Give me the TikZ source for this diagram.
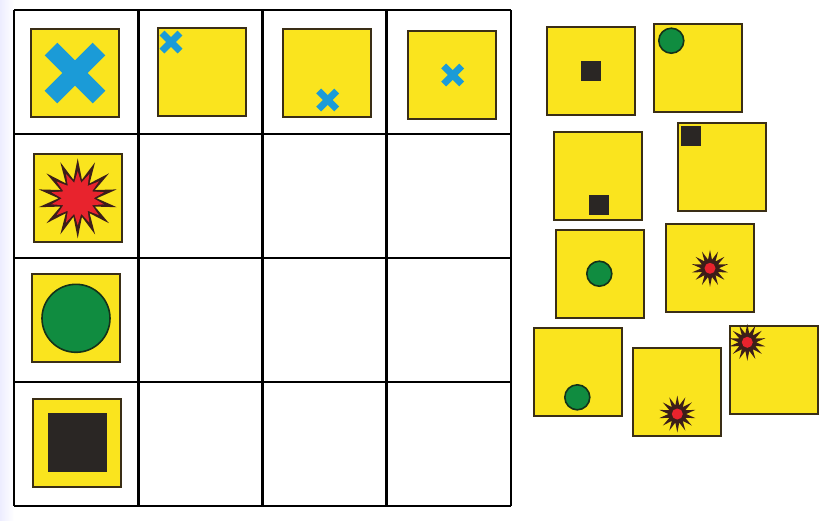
\documentclass[tikz,border=0pt]{standalone}
\usepackage{tikz}
\usetikzlibrary{shapes.geometric}
\definecolor{tileyel}{RGB}{250,228,30}
\definecolor{tileedge}{RGB}{58,46,22}
\definecolor{xblue}{RGB}{27,155,215}
\definecolor{dotgreen}{RGB}{16,140,64}
\definecolor{dotedge}{RGB}{20,50,25}
\definecolor{burstred}{RGB}{232,35,45}
\definecolor{burstdark}{RGB}{60,30,25}
\definecolor{blkfill}{RGB}{42,38,36}
\tikzset{
  cellgrid/.style={black, line width=2.6pt},
  tile/.style={draw=tileedge, fill=tileyel, line width=2pt, minimum size=88pt, inner sep=0pt},
  xarm/.style={xblue, line width=#1, line cap=butt},
  dot/.style={circle, draw=dotedge, fill=dotgreen, line width=1.6pt, inner sep=0pt},
  blk/.style={rectangle, fill=blkfill, draw=blkfill, inner sep=0pt},
  burst/.style={star, star points=14, star point ratio=2.1, fill=burstdark, inner sep=0pt},
  burstcore/.style={star, star points=14, star point ratio=1.7, fill=burstred, inner sep=0pt},
}

\begin{document}
\begin{tikzpicture}[x=1pt, y=-1pt]
    \useasboundingbox (0,0) rectangle (827,520);
    \fill[white] (0,0) rectangle (827,520);
    \shade[left color=blue!7, right color=white] (0,0) rectangle (14,520);
    % the 4 x 4 board
    \foreach \i in {0,...,4}{
      \draw[cellgrid] ({14+124.25*\i},10) -- ({14+124.25*\i},506);
      \draw[cellgrid] (14,{10+124*\i}) -- (511,{10+124*\i});}
    % tiles in the board
    \foreach \n/\x/\y in {g0/74.7/73.3, g1/201.7/72.2, g2/327.2/72.8, g3/452.2/75,
                          r1/78/198.3, r2/75.8/318, r3/76.8/442.8}{
      \node[tile] (\n) at (\x,\y) {};}
    % loose tiles on the right
    \foreach \n/\x/\y in {t1/590.8/71.2, t2/698.3/67.8, t3/597.8/175.7, t4/721.5/166.7,
                          t5/599.8/273.8, t6/710.2/267.8, t7/577.5/372.2, t8/677.2/392.2,
                          t9/773.8/369.5}{
      \node[tile] (\n) at (\x,\y) {};}
    % crosses
    \foreach \x/\y/\h/\w in {75/73/24/18pt, 171/42/9/7pt, 327.7/100/9/7pt, 452.7/75/9/7pt}{
      \draw[xarm=\w] (\x-\h,\y-\h) -- (\x+\h,\y+\h);
      \draw[xarm=\w] (\x-\h,\y+\h) -- (\x+\h,\y-\h);}
    % bursts
    \node[burst, minimum size=80pt] (b0) at (77.7,198.3) {};
    \node[burstcore, minimum size=54pt] at (b0) {};
    \foreach \n/\x/\y in {b1/710/268.3, b2/677.3/414, b3/747.3/342.3}{
      \node[burst, minimum size=37pt] (\n) at (\x,\y) {};
      \node[circle, fill=burstred, minimum size=11pt, inner sep=0pt] at (\n) {};}
    % circles
    \node[dot, minimum size=68pt] (c0) at (76,318.3) {};
    \foreach \n/\x/\y in {c1/671.3/40.7, c2/599.3/273.7, c3/577.3/397.3}{
      \node[dot, minimum size=25pt] (\n) at (\x,\y) {};}
    % squares
    \node[blk, minimum size=58pt] (s0) at (77.2,442.2) {};
    \foreach \n/\x/\y in {s1/591/71, s2/598.3/204.3, s3/691/136}{
      \node[blk, minimum size=19pt] (\n) at (\x,\y) {};}
\end{tikzpicture}
\end{document}
